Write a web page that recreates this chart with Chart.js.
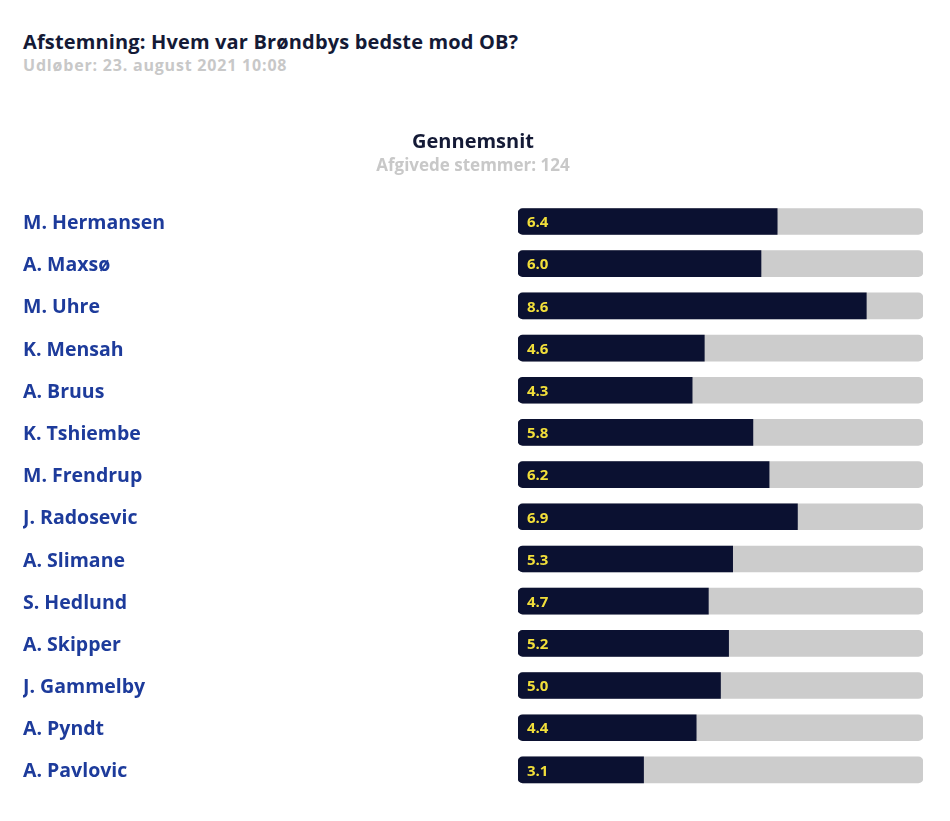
<!DOCTYPE html>
<html>
<head>
<meta charset="utf-8">
<script src="https://cdn.jsdelivr.net/npm/chart.js@4"></script>
<style>
  body { margin: 0; background: #fff; font-family: "Open Sans", sans-serif; }
  .head { position: absolute; left: 23px; top: 29px; }
  .head h1 { margin: 0; font-size: 20px; font-weight: 700; color: #141a36; line-height: 25px; letter-spacing: 0.15px; }
  .head p { margin: 0; font-size: 16px; font-weight: 700; color: #c8c8c8; line-height: 22px; letter-spacing: 0.8px; }
  .wrap { position: absolute; left: 0; top: 120px; width: 950px; height: 701px; }
</style>
</head>
<body>
<div class="head">
  <h1>Afstemning: Hvem var Brøndbys bedste mod OB?</h1>
  <p>Udløber: 23. august 2021 10:08</p>
</div>
<div class="wrap"><canvas id="pollChart"></canvas></div>
<script>
const players = ['M. Hermansen', 'A. Maxsø', 'M. Uhre', 'K. Mensah', 'A. Bruus', 'K. Tshiembe', 'M. Frendrup',
  'J. Radosevic', 'A. Slimane', 'S. Hedlund', 'A. Skipper', 'J. Gammelby', 'A. Pyndt', 'A. Pavlovic'];
const ratings = [6.4, 6.0, 8.6, 4.6, 4.3, 5.8, 6.2, 6.9, 5.3, 4.7, 5.2, 5.0, 4.4, 3.1];
const maxRating = [10, 10, 10, 10, 10, 10, 10, 10, 10, 10, 10, 10, 10, 10];

// writes the value inside each dark bar
const valueLabels = {
    id: 'valueLabels',
    afterDatasetsDraw(chart) {
        const ctx = chart.ctx;
        const meta = chart.getDatasetMeta(0);
        ctx.save();
        ctx.font = '700 15px "Open Sans"';
        ctx.fillStyle = '#f2df3a';
        ctx.textBaseline = 'middle';
        meta.data.forEach((bar, i) => {
            ctx.fillText(ratings[i].toFixed(1), bar.base + 9, bar.y + 1.5);
        });
        ctx.restore();
    }
};

new Chart(document.getElementById('pollChart'), {
    type: 'bar',
    data: {
        labels: players,
        datasets: [{
            data: ratings,
            backgroundColor: '#0b1131',
            barThickness: 26,
            grouped: false,
            order: 0,
            borderSkipped: false,
            borderRadius: { topLeft: 5, bottomLeft: 5, topRight: 0, bottomRight: 0 }
        }, {
            data: maxRating,
            backgroundColor: '#cccccc',
            barThickness: 26,
            grouped: false,
            order: 1,
            borderSkipped: false,
            borderRadius: 5
        }]
    },
    options: {
        indexAxis: 'y',
        responsive: true,
        maintainAspectRatio: false,
        animation: false,
        layout: { padding: { left: 23, right: 27, top: 0, bottom: 30 } },
        plugins: {
            legend: { display: false },
            tooltip: { enabled: false },
            title: {
                display: true,
                text: 'Gennemsnit',
                color: '#141a36',
                font: { family: 'Open Sans', size: 20, weight: '700', lineHeight: 1.2 },
                padding: { top: 10, bottom: 2 }
            },
            subtitle: {
                display: true,
                text: 'Afgivede stemmer: 124',
                color: '#c8c8c8',
                font: { family: 'Open Sans', size: 17, weight: '700', lineHeight: 1.2 },
                padding: { top: 0, bottom: 24 }
            }
        },
        scales: {
            x: { display: false, min: 0, max: 10 },
            y: {
                grid: { display: false },
                border: { display: false },
                afterFit(axis) { axis.width = 495; },
                ticks: {
                    crossAlign: 'far',
                    labelOffset: 2,
                    color: '#1d3b9b',
                    font: { family: 'Open Sans', size: 19.5, weight: '700' }
                }
            }
        }
    },
    plugins: [valueLabels]
});
</script>
</body>
</html>
